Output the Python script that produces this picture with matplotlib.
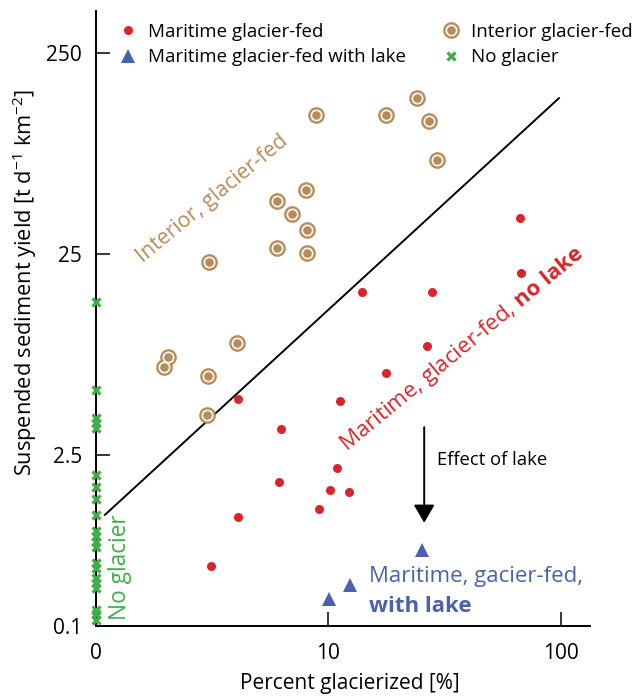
import numpy as np
import matplotlib
matplotlib.use("Agg")
import matplotlib.pyplot as plt
from matplotlib.lines import Line2D
from matplotlib.legend_handler import HandlerTuple

plt.rcParams['font.family'] = ['Open Sans', 'DejaVu Sans']
plt.rcParams['mathtext.fontset'] = 'custom'
plt.rcParams['mathtext.rm'] = 'Open Sans'
plt.rcParams['mathtext.it'] = 'Open Sans:italic'
plt.rcParams['mathtext.bf'] = 'Open Sans:bold'

# ---- data (percent glacierized, suspended sediment yield) ----
maritime_x = [4.07, 6.22, 11.26, 6.10, 10.9, 10.2, 12.2, 9.06, 4.07, 3.11,
              66.7, 67.3, 13.9, 27.9, 26.6, 17.7]
maritime_y = [4.75, 3.37, 4.64, 1.84, 2.15, 1.67, 1.64, 1.35, 1.23, 0.70,
              37.8, 20.1, 16.2, 16.2, 8.71, 6.40]

lake_x = [25.3, 12.4, 10.1]
lake_y = [0.842, 0.564, 0.481]

interior_x = [8.8, 17.6, 24.1, 27.1, 29.4, 7.97, 5.98, 7.0, 8.05, 5.98, 8.05,
              3.05, 2.04, 1.96, 4.03, 3.02, 2.99]
interior_y = [122.9, 122.9, 149.3, 114.7, 73.4, 52.0, 45.9, 39.5, 32.9, 26.8,
              25.3, 22.8, 7.69, 6.85, 9.0, 6.18, 3.95]

noglacier_x = [0] * 21
noglacier_y = [14.4, 5.26, 3.82, 3.61, 3.41, 1.99, 1.73, 1.51, 1.26, 1.05, 0.99,
               0.92, 0.87, 0.726, 0.685, 0.611, 0.577, 0.545, 0.424, 0.405, 0.378]

line_x = [1.093, 98.0]
line_y = [1.26, 149.0]

arrow_x = 25.8
arrow_y = [3.44, 1.15]

xticks = [1, 10, 100]
xticklabels = ["0", "10", "100"]
yticks = [0.3525, 2.5, 25, 250]
yticklabels = ["0.1", "2.5", "25", "250"]

RED = "#d7262b"
BLUE = "#4a62ad"
BROWN = "#b98b5a"
GREEN = "#3fae49"

fig = plt.figure(figsize=(6.4, 6.96), dpi=100)
ax = fig.add_axes([96/640, 70/696, 494/640, 615/696])
ax.set_xscale('log')
ax.set_yscale('log')
ax.set_xlim(1, 133.3)
ax.set_ylim(0.3525, 404.5)

# threshold line
ax.plot(line_x, line_y, color='black', lw=1.4, zorder=2)

# no glacier: plotted on the "0" position (x = 1 on the log axis)
ng_x = np.where(np.array(noglacier_x) == 0, 1.0, noglacier_x)
ax.plot(ng_x, noglacier_y, ls='none', marker='x', ms=5.2, mew=2.3,
        color=GREEN, clip_on=False, zorder=4)

# interior glacier-fed: brown disc, white ring, brown centre
ax.plot(interior_x, interior_y, ls='none', marker='o', ms=12, mew=0,
        color=BROWN, zorder=3)
ax.plot(interior_x, interior_y, ls='none', marker='o', ms=7.4, mew=1.2,
        mfc=BROWN, mec='white', zorder=3)

ax.plot(maritime_x, maritime_y, ls='none', marker='o', ms=6.5, mew=0,
        color=RED, zorder=3)
ax.plot(lake_x, lake_y, ls='none', marker='^', ms=10, mew=0,
        color=BLUE, zorder=3)

ax.annotate('', xy=(arrow_x, arrow_y[1]), xytext=(arrow_x, arrow_y[0]),
            arrowprops=dict(arrowstyle='-|>,head_length=0.55,head_width=0.32',
                            color='black', lw=1.4, mutation_scale=20,
                            shrinkA=0, shrinkB=0))

# spines & ticks
for s in ['top', 'right']:
    ax.spines[s].set_visible(False)
for s in ['left', 'bottom']:
    ax.spines[s].set_linewidth(1.4)
ax.set_xticks(xticks)
ax.set_xticklabels(xticklabels)
ax.set_yticks(yticks)
ax.set_yticklabels(yticklabels)
ax.xaxis.set_minor_locator(matplotlib.ticker.NullLocator())
ax.yaxis.set_minor_locator(matplotlib.ticker.NullLocator())
ax.tick_params(axis='both', direction='in', length=10, width=1.1,
               labelsize=15)
ax.tick_params(axis='x', pad=12)
ax.tick_params(axis='y', pad=10)

ax.set_xlabel("Percent glacierized [%]", fontsize=15)
ax.xaxis.label.set_va('center')
ax.xaxis.set_label_coords((350-96)/494, (626-683)/615)
ax.set_ylabel("Suspended sediment yield [t d$^{-1}$ km$^{-2}$]", fontsize=15.7)
ax.yaxis.label.set_va('center')
ax.yaxis.set_label_coords((25-96)/494, (626-282)/615)

# annotations
ax.text(1.59, 22.56, "Interior, glacier-fed", color=BROWN, fontsize=15.3,
        rotation=39.4, rotation_mode='anchor', ha='left', va='baseline')
ax.text(11.95, 2.59, r"Maritime, glacier-fed, $\mathbf{no\ lake}$", color=RED,
        fontsize=16, rotation=39.5, rotation_mode='anchor', ha='left',
        va='baseline')
ax.text(1.268, 0.693, "No glacier", color=GREEN, fontsize=16.3, rotation=90,
        ha='center', va='center')
ax.text(15.0, 0.618, "Maritime, gacier-fed,", color=BLUE, fontsize=16,
        ha='left', va='center')
ax.text(15.0, 0.4385, "with lake", color=BLUE, fontsize=16,
        fontweight='bold', ha='left', va='center')
ax.text(29.4, 2.36, "Effect of lake", color='black', fontsize=13.3,
        ha='left', va='center')

# legend
h_red = Line2D([], [], ls='none', marker='o', ms=6.5, mew=0, color=RED)
h_blue = Line2D([], [], ls='none', marker='^', ms=10, mew=0, color=BLUE)
h_int1 = Line2D([], [], ls='none', marker='o', ms=12, mew=0, color=BROWN)
h_int2 = Line2D([], [], ls='none', marker='o', ms=7.4, mew=1.2, mfc=BROWN,
                mec='white')
h_ng = Line2D([], [], ls='none', marker='x', ms=5.2, mew=2.3, color=GREEN)
leg = ax.legend([h_red, h_blue, (h_int1, h_int2), h_ng],
                ["Maritime glacier-fed", "Maritime glacier-fed with lake",
                 "Interior glacier-fed", "No glacier"],
                handler_map={tuple: HandlerTuple(ndivide=1, pad=0)},
                ncol=2, frameon=False, fontsize=13.5, loc='upper left',
                bbox_to_anchor=(118.6/640, 1 - 23/696),
                bbox_transform=fig.transFigure, borderpad=0, borderaxespad=0,
                handlelength=1.0, handletextpad=0.57, columnspacing=1.9,
                labelspacing=0.38)

fig.savefig("out.png", dpi=100)
